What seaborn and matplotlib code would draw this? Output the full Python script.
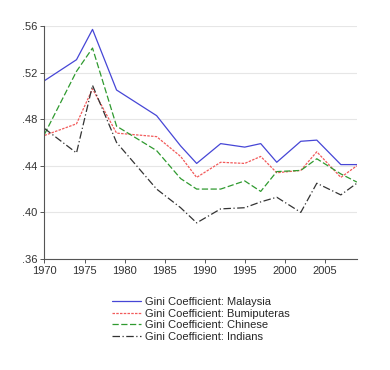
import matplotlib
matplotlib.use("Agg")
import matplotlib.pyplot as plt
import seaborn as sns
import pandas as pd
from matplotlib.ticker import FuncFormatter

years = [1970, 1974, 1976, 1979, 1984, 1987, 1989, 1992, 1995, 1997, 1999, 2002, 2004, 2007, 2009]
malaysia = [0.513, 0.531, 0.557, 0.505, 0.483, 0.457, 0.442, 0.459, 0.456, 0.459, 0.443, 0.461, 0.462, 0.441, 0.441]
bumiputeras = [0.466, 0.476, 0.506, 0.468, 0.465, 0.448, 0.430, 0.443, 0.442, 0.448, 0.434, 0.436, 0.452, 0.430, 0.440]
chinese = [0.467, 0.521, 0.541, 0.474, 0.453, 0.429, 0.420, 0.420, 0.427, 0.418, 0.435, 0.436, 0.446, 0.433, 0.426]
indians = [0.472, 0.451, 0.509, 0.460, 0.420, 0.404, 0.391, 0.403, 0.404, 0.409, 0.413, 0.400, 0.425, 0.415, 0.425]

series = [
    ("Gini Coefficient: Malaysia", malaysia, "#4646d6", "-"),
    ("Gini Coefficient: Bumiputeras", bumiputeras, "#f25a5a", (0, (2, 1))),
    ("Gini Coefficient: Chinese", chinese, "#2f9a2f", (0, (5, 2))),
    ("Gini Coefficient: Indians", indians, "#333333", (0, (6, 2, 1, 2))),
]

sns.set_style("white")
plt.rcParams['font.family'] = ['Liberation Sans', 'DejaVu Sans']
plt.rcParams['font.size'] = 8

fig = plt.figure(figsize=(3.9, 3.7), dpi=100)
ax = fig.add_axes([0.114, 0.30, 0.801, 0.63])

for label, vals, color, ls in series:
    df = pd.DataFrame({"year": years, "gini": vals})
    sns.lineplot(data=df, x="year", y="gini", ax=ax, color=color,
                 linestyle=ls, linewidth=0.9, label=label)

ax.set_xlim(1970, 2009)
ax.set_ylim(0.36, 0.56)
ax.set_xticks([1970, 1975, 1980, 1985, 1990, 1995, 2000, 2005])
ax.set_yticks([0.36, 0.40, 0.44, 0.48, 0.52, 0.56])
ax.yaxis.set_major_formatter(FuncFormatter(lambda v, p: f"{v:.2f}".lstrip("0")))
ax.set_xlabel("")
ax.set_ylabel("")
ax.grid(axis="y", color="#e6e6e6", linewidth=0.8)
ax.set_axisbelow(True)
for s in ["top", "right"]:
    ax.spines[s].set_visible(False)
for s in ["left", "bottom"]:
    ax.spines[s].set_color("#555555")
    ax.spines[s].set_linewidth(0.8)
ax.tick_params(axis="both", direction="out", length=3, width=0.7, color="#555555",
               labelsize=8, labelcolor="#333333", left=True, bottom=True, pad=2)

ax.legend(loc="upper center", bbox_to_anchor=(0.5, -0.12), frameon=False,
          handlelength=2.6, handletextpad=0.4, labelspacing=0.15, fontsize=8)

fig.savefig("out.png", dpi=100)
